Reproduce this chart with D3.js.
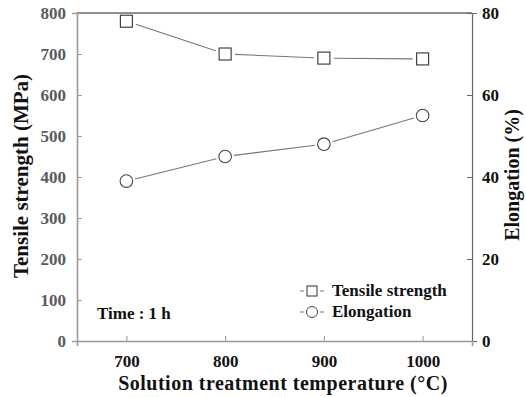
<!DOCTYPE html>
<html>
<head>
<meta charset="utf-8">
<script src="https://cdn.jsdelivr.net/npm/d3@7"></script>
<style>
  html, body { margin: 0; padding: 0; background: #fff; }
</style>
</head>
<body>
<svg id="chart" width="526" height="397"></svg>
<script>
// Solution treatment temperature (°C)
const temperatures = [700, 800, 900, 1000];
// Tensile strength (MPa)
const tensileStrength = [780, 700, 690, 688];
// Elongation (%)
const elongation = [39, 45, 48, 55];
const xTicks = [700, 800, 900, 1000];
const leftTicks = [0, 100, 200, 300, 400, 500, 600, 700, 800];
const rightTicks = [0, 20, 40, 60, 80];

const FONT = '"Liberation Serif", "Times New Roman", Times, serif';
const svg = d3.select("#chart")
  .attr("font-family", FONT).attr("font-weight", "bold");
const margin = { left: 77, right: 54, top: 13, bottom: 56 };
const W = 526, H = 397;
const x0 = margin.left, x1 = W - margin.right;
const y0 = H - margin.bottom, y1 = margin.top;

const x = d3.scaleLinear().domain([650, 1050]).range([x0, x1]);
const yL = d3.scaleLinear().domain([0, 800]).range([y0, y1]);
const yR = d3.scaleLinear().domain([0, 80]).range([y0, y1]);

const axisGray = "#9a9a9a";
const fmt = d3.format("d");

function styleTicks(g, color) {
  g.attr("font-family", FONT).attr("font-weight", "bold");
  g.selectAll(".tick text").attr("fill", color).attr("font-size", 17);
}

// top border
svg.append("line").attr("x1", x0).attr("x2", x1).attr("y1", y1).attr("y2", y1)
  .attr("stroke", "#222").attr("stroke-width", 1.2);

// left axis
const gL = svg.append("g").attr("transform", `translate(${x0},0)`)
  .call(d3.axisLeft(yL).tickValues(leftTicks).tickFormat(fmt).tickSize(5).tickPadding(6));
gL.select(".domain").attr("stroke", axisGray).attr("stroke-width", 1.6);
gL.selectAll(".tick line").attr("stroke", axisGray).attr("x2", 5);
styleTicks(gL, "#5a5a5a");

// right axis
const gR = svg.append("g").attr("transform", `translate(${x1},0)`)
  .call(d3.axisRight(yR).tickValues(rightTicks).tickFormat(fmt).tickSize(5).tickPadding(5));
gR.select(".domain").attr("stroke", "#666").attr("stroke-width", 1.2);
gR.selectAll(".tick line").attr("stroke", "#666").attr("x1", -5).attr("x2", 0);
styleTicks(gR, "#111");

// bottom axis
const gB = svg.append("g").attr("transform", `translate(0,${y0})`)
  .call(d3.axisBottom(x).tickValues(xTicks).tickFormat(fmt).tickSize(5).tickPadding(9));
gB.select(".domain").attr("stroke", axisGray).attr("stroke-width", 1.6);
gB.selectAll(".tick line").attr("stroke", axisGray).attr("y1", -5).attr("y2", 0);
styleTicks(gB, "#111");

// axis titles
svg.append("text").attr("transform", `translate(28,176) rotate(-90)`)
  .attr("text-anchor", "middle").attr("font-size", 21).attr("fill", "#111")
  .text("Tensile strength (MPa)");
svg.append("text").attr("transform", `translate(519,175) rotate(-90)`)
  .attr("text-anchor", "middle").attr("font-size", 20).attr("fill", "#111")
  .text("Elongation (%)");
svg.append("text").attr("x", 283).attr("y", 390)
  .attr("text-anchor", "middle").attr("font-size", 20).attr("fill", "#111")
  .attr("letter-spacing", 0.5)
  .text("Solution treatment temperature (°C)");

// connecting segments, stopping short of the markers
function drawSegments(vals, yScale, gap) {
  for (let i = 0; i < vals.length - 1; i++) {
    const ax = x(temperatures[i]), ay = yScale(vals[i]);
    const bx = x(temperatures[i + 1]), by = yScale(vals[i + 1]);
    const dx = bx - ax, dy = by - ay, len = Math.hypot(dx, dy);
    const ux = dx / len, uy = dy / len;
    svg.append("line")
      .attr("x1", ax + ux * gap).attr("y1", ay + uy * gap)
      .attr("x2", bx - ux * gap).attr("y2", by - uy * gap)
      .attr("stroke", "#777").attr("stroke-width", 1.1);
  }
}
drawSegments(tensileStrength, yL, 10);
drawSegments(elongation, yR, 9);

// markers
svg.selectAll(".sq").data(tensileStrength).join("rect")
  .attr("x", (d, i) => x(temperatures[i]) - 6)
  .attr("y", d => yL(d) - 6)
  .attr("width", 12).attr("height", 12)
  .attr("fill", "#fff").attr("stroke", "#333").attr("stroke-width", 1.1);
svg.selectAll(".ci").data(elongation).join("circle")
  .attr("cx", (d, i) => x(temperatures[i]))
  .attr("cy", d => yR(d))
  .attr("r", 6.3)
  .attr("fill", "#fff").attr("stroke", "#444").attr("stroke-width", 1.1);

// legend
const legend = [
  { label: "Tensile strength", shape: "square", y: 291 },
  { label: "Elongation", shape: "circle", y: 312 }
];
const lx = 300;
legend.forEach(l => {
  svg.append("line").attr("x1", lx).attr("x2", lx + 4).attr("y1", l.y).attr("y2", l.y)
    .attr("stroke", "#777");
  svg.append("line").attr("x1", lx + 20).attr("x2", lx + 24).attr("y1", l.y).attr("y2", l.y)
    .attr("stroke", "#777");
  if (l.shape === "square") {
    svg.append("rect").attr("x", lx + 7).attr("y", l.y - 5).attr("width", 10).attr("height", 10)
      .attr("fill", "#fff").attr("stroke", "#333").attr("stroke-width", 1);
  } else {
    svg.append("circle").attr("cx", lx + 12).attr("cy", l.y).attr("r", 5.5)
      .attr("fill", "#fff").attr("stroke", "#444").attr("stroke-width", 1);
  }
  svg.append("text").attr("x", lx + 32).attr("y", l.y + 5)
    .attr("font-size", 17).attr("fill", "#111").text(l.label);
});

// annotation
svg.append("text").attr("x", 97).attr("y", 319).attr("font-size", 17).attr("fill", "#111")
  .text("Time : 1 h");
</script>
</body>
</html>
